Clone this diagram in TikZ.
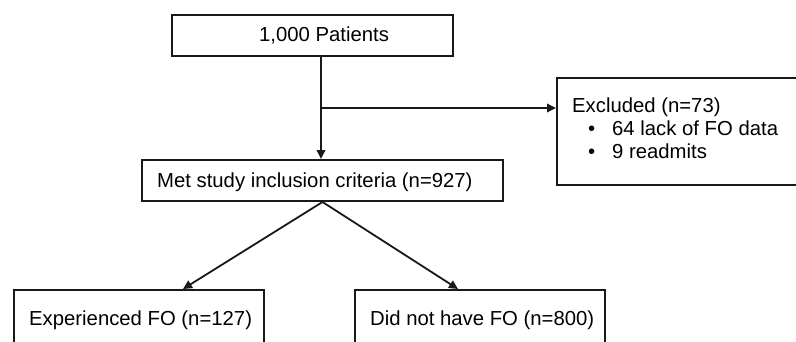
\documentclass[tikz,border=0pt]{standalone}
\usepackage{fontspec}
\setmainfont{Liberation Sans}
\usetikzlibrary{arrows.meta,calc}
\begin{document}
\begin{tikzpicture}[x=1pt,y=-1pt,
  box/.style={draw=black!90, line width=2pt, rectangle, inner sep=0pt},
  lbl/.style={anchor=base west, inner sep=0pt, font=\fontsize{20.3}{24}\selectfont, text=black},
  conn/.style={line width=1.8pt, draw=black!90},
  arr/.style={conn, -{Triangle[length=9pt,width=8.5pt]}}]
\useasboundingbox (0,0) rectangle (796,341);
\clip (0,0) rectangle (796,341);
% boxes
\node[box, minimum width=281pt, minimum height=41pt] (top) at (312.5,35.5) {};
\node[box, minimum width=361pt, minimum height=41pt] (mid) at (322.5,180.5) {};
\node[box, minimum width=273pt, minimum height=107pt] (excl) at (693.5,131.5) {};
\node[box, minimum width=250pt, minimum height=70pt] (bl) at (139,325) {};
\node[box, minimum width=250pt, minimum height=70pt] (brr) at (480,325) {};
% texts
\node[lbl] (t1) at (259,41.7) {1,000 Patients};
\node[lbl] (t2) at (157,187) {Met study inclusion criteria (n=927)};
\node[lbl] (t3) at (572,112) {Excluded (n=73)};
\node[lbl] (b1) at (588,135) {•};
\node[lbl] (t4) at (612,135) {64 lack of FO data};
\node[lbl] (b2) at (588,158) {•};
\node[lbl] (t5) at (612,158) {9 readmits};
\node[lbl] (t6) at (29,325) {Experienced FO (n=127)};
\node[lbl] (t7) at (370,325) {Did not have FO (n=800)};
% connectors
\coordinate (vs) at ([xshift=8.5pt]top.south);
\coordinate (ve) at ([xshift=-1.5pt]mid.north);
\coordinate (br) at ($(vs)!0.5!(ve)$);
\draw[arr] (vs) -- (ve);
\draw[arr] (br) -- (br -| excl.west);
\draw[arr] (mid.south) -- ([xshift=44pt]bl.north);
\draw[arr] (mid.south) -- ([xshift=-22pt]brr.north);
\end{tikzpicture}
\end{document}
